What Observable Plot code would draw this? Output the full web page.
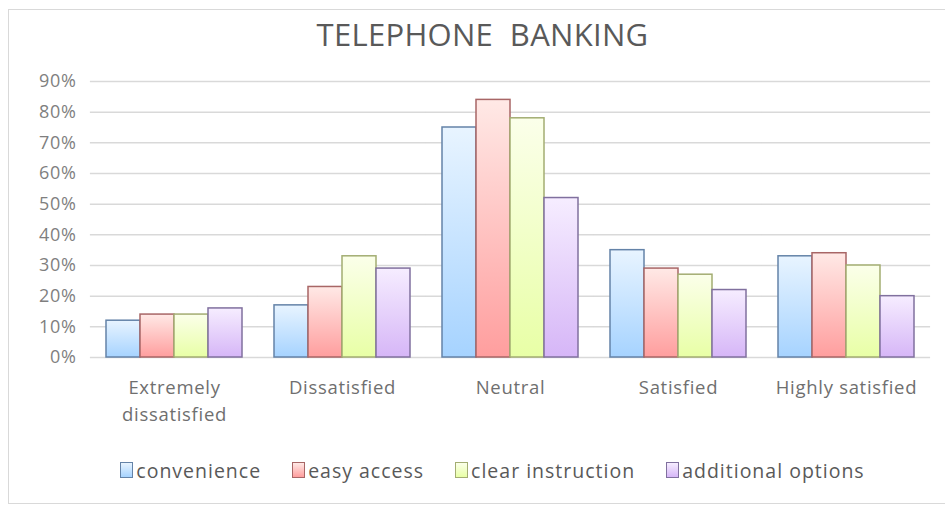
<!DOCTYPE html>
<html>
<head>
<meta charset="utf-8">
<script src="https://cdn.jsdelivr.net/npm/d3@7"></script>
<script src="https://cdn.jsdelivr.net/npm/@observablehq/plot@0.6"></script>
<style>
  html, body { margin: 0; padding: 0; background: #fff; }
  body { width: 945px; height: 506px; position: relative; overflow: hidden; font-family: "Open Sans", "Noto Sans", sans-serif; }
  #frame { position: absolute; left: 8px; top: 9px; width: 945px; height: 495px; border: 1px solid #d9d9d9; box-sizing: border-box; }
  #title { position: absolute; left: 10px; top: 0; width: 945px; height: 62px; text-align: center; font-size: 31px; color: #595959; line-height: 68px; letter-spacing: 0.3px; }
  #chart { position: absolute; left: 0; top: 62px; }
  #legend { position: absolute; left: 20px; top: 452px; width: 945px; height: 36px; display: flex; justify-content: center; align-items: center; font-size: 19.5px; letter-spacing: 1px; color: #595959; }
  .item { display: flex; align-items: center; margin: 0 15.5px; }
  .sw { width: 13px; height: 16px; box-sizing: border-box; border: 1.5px solid; margin-right: 3px; }
</style>
</head>
<body>
<div id="frame"></div>
<div id="title">TELEPHONE&nbsp; BANKING</div>
<div id="chart"></div>
<div id="legend"></div>
<script>
const categories = ["Extremely dissatisfied", "Dissatisfied", "Neutral", "Satisfied", "Highly satisfied"];
const seriesNames = ["convenience", "easy access", "clear instruction", "additional options"];
const convenience = [12, 17, 75, 35, 33];
const easyAccess = [14, 23, 84, 29, 34];
const clearInstruction = [14, 33, 78, 27, 30];
const additionalOptions = [16, 29, 52, 22, 20];
const yTicks = [0, 10, 20, 30, 40, 50, 60, 70, 80, 90];

const seriesValues = [convenience, easyAccess, clearInstruction, additionalOptions];
const gradTop = ["#e8f4ff", "#ffe9e6", "#fbffea", "#f6edff"];
const gradBottom = ["#a6d3ff", "#ff9e9e", "#e8ffa6", "#d6b6f7"];
const strokes = ["#6483a8", "#a86666", "#a3ad72", "#80709e"];

const data = [];
categories.forEach((c, i) => {
  seriesNames.forEach((s, j) => {
    data.push({category: c, series: s, value: seriesValues[j][i]});
  });
});

const plot = Plot.plot({
  width: 945,
  height: 378,
  marginLeft: 88,
  marginRight: 13,
  marginTop: 19,
  marginBottom: 83,
  style: {fontFamily: "'Open Sans', 'Noto Sans', sans-serif", color: "#7f7f7f", background: "transparent"},
  fx: {domain: categories, paddingInner: 0.19, paddingOuter: 0.095, label: null},
  x: {domain: seriesNames, padding: 0, axis: null},
  y: {domain: [0, 90], label: null},
  marks: [
    Plot.ruleY(yTicks, {stroke: "#d9d9d9", strokeWidth: 1.5, facet: "exclude", insetLeft: -16.1, insetRight: -16.1}),
    ...seriesNames.map((s, j) => Plot.barY(data.filter(d => d.series === s), {
      fx: "category", x: "series", y: "value",
      fill: `url(#grad${j})`, stroke: strokes[j], strokeWidth: 1.5, inset: 0
    })),
    Plot.axisY(yTicks, {tickSize: 0, tickPadding: 30, tickFormat: d => d + "%", fontSize: 18, fill: "#7f7f7f"}),
    Plot.axisFx({anchor: "bottom", tickSize: 0, tickPadding: 17, fontSize: 18.5, lineWidth: 10, lineHeight: 1.47, fill: "#6f6f6f", label: null})
  ]
});

const svg = d3.select(plot);
svg.selectAll("text").style("letter-spacing", "0.7px");
const defs = svg.insert("defs", ":first-child");
seriesNames.forEach((s, j) => {
  const g = defs.append("linearGradient").attr("id", `grad${j}`).attr("x1", 0).attr("y1", 0).attr("x2", 0).attr("y2", 1);
  g.append("stop").attr("offset", "0%").attr("stop-color", gradTop[j]);
  g.append("stop").attr("offset", "100%").attr("stop-color", gradBottom[j]);
});
document.getElementById("chart").appendChild(plot);

const legend = document.getElementById("legend");
seriesNames.forEach((s, j) => {
  const it = document.createElement("div");
  it.className = "item";
  const sw = document.createElement("div");
  sw.className = "sw";
  sw.style.borderColor = strokes[j];
  sw.style.background = `linear-gradient(${gradTop[j]}, ${gradBottom[j]})`;
  const t = document.createElement("span");
  t.textContent = s;
  it.appendChild(sw); it.appendChild(t);
  legend.appendChild(it);
});
</script>
</body>
</html>
